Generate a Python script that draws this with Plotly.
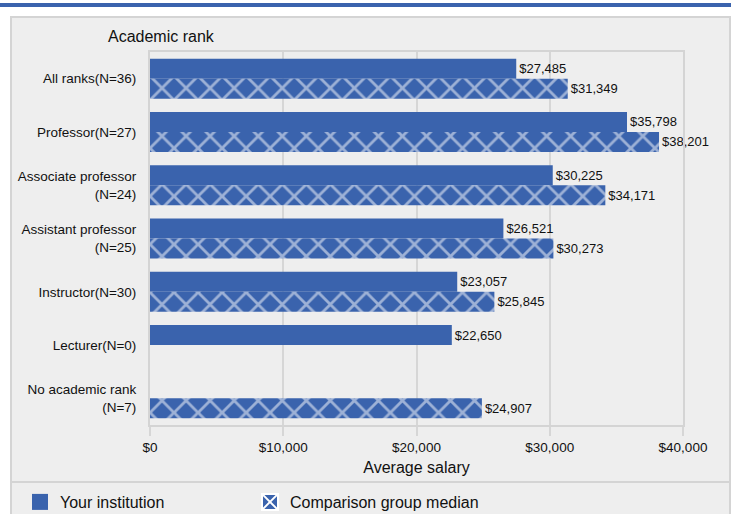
import plotly.graph_objects as go

categories = [
    "All ranks(N=36)",
    "Professor(N=27)",
    "Associate professor<br>(N=24)",
    "Assistant professor<br>(N=25)",
    "Instructor(N=30)",
    "Lecturer(N=0)",
    "No academic rank<br>(N=7)",
]
institution = [27485, 35798, 30225, 26521, 23057, 22650, None]
comparison = [31349, 38201, 34171, 30273, 25845, None, 24907]
x_ticks = [0, 10000, 20000, 30000, 40000]
x_tick_labels = ["$0", "$10,000", "$20,000", "$30,000", "$40,000"]

BLUE = "#3a63ad"
GRID = "#d6d6d6"
PANEL = "#eeeeee"
FONT = "Liberation Sans, Arial, sans-serif"

# plot area in pixels
L, R, T, B = 150, 683, 52, 425
W, H = 735, 514


def px(v):
    return (v - L) / (R - L)


def py(v):
    return (B - v) / (B - T)


def label(vals):
    return ["" if v is None else f"${v:,}" for v in vals]


fig = go.Figure()
fig.add_trace(go.Bar(
    y=categories, x=institution, orientation="h",
    name="Your institution", showlegend=False,
    marker=dict(color=BLUE, line=dict(width=0)),
    text=label(institution), textposition="outside",
    textfont=dict(size=13, color="#111"), cliponaxis=False,
))
fig.add_trace(go.Bar(
    y=categories, x=comparison, orientation="h",
    name="Comparison group median", showlegend=False,
    marker=dict(color=BLUE, line=dict(width=0),
                pattern=dict(shape="x", fgcolor="white", bgcolor=BLUE,
                             size=17, solidity=0.3, fillmode="overlay")),
    text=label(comparison), textposition="outside",
    textfont=dict(size=13, color="#111"), cliponaxis=False,
))
# legend icons
fig.add_trace(go.Scatter(
    x=[None], y=[None], mode="markers", name="Your institution",
    legend="legend",
    marker=dict(symbol="square", size=17, color=BLUE, line=dict(width=0)),
))
fig.add_trace(go.Scatter(
    x=[None], y=[None], mode="markers", name="Comparison group median",
    legend="legend2",
    marker=dict(symbol="square-x", size=17, color=BLUE,
                line=dict(width=2, color="white")),
))

shapes = [
    dict(type="rect", xref="paper", yref="paper", layer="below",
         x0=px(11), x1=px(730), y0=py(520), y1=py(17),
         fillcolor=PANEL, line=dict(color="#d4d4d4", width=2)),
    dict(type="line", xref="paper", yref="paper", layer="below",
         x0=px(11), x1=px(730), y0=py(482), y1=py(482),
         line=dict(color="#d4d4d4", width=2)),
    dict(type="rect", xref="paper", yref="paper", layer="below",
         x0=px(0), x1=px(731), y0=py(7), y1=py(3),
         fillcolor=BLUE, line=dict(width=0)),
]

legend_style = dict(orientation="h", xanchor="left", yanchor="middle",
                    y=py(502), font=dict(size=16), bgcolor="rgba(0,0,0,0)")

fig.update_layout(
    width=W, height=H,
    margin=dict(l=L, r=W - R, t=T, b=H - B, autoexpand=False),
    paper_bgcolor="white", plot_bgcolor=PANEL,
    font=dict(family=FONT, size=13, color="#111"),
    barmode="group", bargap=0.25, bargroupgap=0,
    shapes=shapes,
    showlegend=True,
    legend=dict(x=px(20), **legend_style),
    legend2=dict(x=px(250), **legend_style),
    annotations=[dict(text="Academic rank", xref="paper", yref="paper",
                      x=px(106), y=py(37), xanchor="left", yanchor="middle",
                      showarrow=False, font=dict(size=16))],
)
fig.update_xaxes(
    range=[0, 40000], tickvals=x_ticks, ticktext=x_tick_labels,
    showgrid=True, gridcolor=GRID, gridwidth=2,
    ticks="outside", ticklen=9, tickcolor=GRID, tickwidth=2,
    showline=True, mirror=True, linecolor="#d4d4d4", linewidth=2,
    zeroline=False, tickfont=dict(size=13.5),
    title=dict(text="Average salary", font=dict(size=16), standoff=8),
)
fig.update_yaxes(
    autorange="reversed", showgrid=False, ticks="",
    showline=True, mirror=True, linecolor="#d4d4d4", linewidth=2,
    ticklabelstandoff=9, tickfont=dict(size=13.5),
)

# drop the page's default body margin so the figure sits at the window corner
fig.write_html("out.html", config={"displayModeBar": False},
               post_script="document.body.style.margin='0';"
                           "document.body.style.overflow='hidden';")
